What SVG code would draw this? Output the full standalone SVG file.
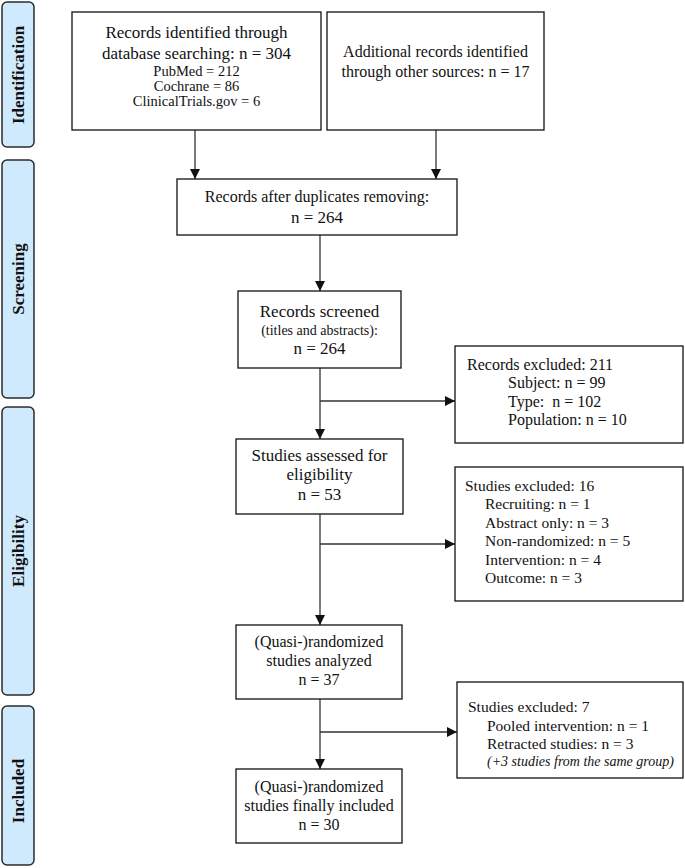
<svg xmlns="http://www.w3.org/2000/svg" width="685" height="868" viewBox="0 0 685 868">
<style>
.bg{fill:#ffffff}
.phase{fill:#cfeafc;stroke:#2b2b2b;stroke-width:1.5}
.ph{font-family:"Liberation Serif","Times New Roman",serif;font-weight:bold;font-size:17px;fill:#111;text-anchor:middle}
.box{fill:#ffffff;stroke:#111;stroke-width:1.3}
.t{font-family:"Liberation Serif","Times New Roman",serif;fill:#111}
.c{text-anchor:middle}
.f17{font-size:17px}
.f16{font-size:16px}
.f15{font-size:15.5px}
.f14{font-size:14.5px}
.it{font-style:italic;font-size:14px}
.ln{stroke:#333;stroke-width:1.3;fill:none}
</style>
<defs>
<marker id="ah" markerUnits="userSpaceOnUse" markerWidth="10" markerHeight="10" viewBox="0 0 10 10" refX="10" refY="5" orient="auto">
<path d="M0,0 L10,5 L0,10 z" fill="#111"/>
</marker>
</defs>
<rect class="bg" x="0" y="0" width="685" height="868"/>

<g id="phase-identification">
<rect class="phase" x="2" y="2" width="32" height="145" rx="5"/>
<text class="ph" transform="translate(24,75) rotate(-90)">Identification</text>
</g>
<g id="phase-screening">
<rect class="phase" x="2" y="160" width="32" height="238" rx="5"/>
<text class="ph" transform="translate(24,279) rotate(-90)">Screening</text>
</g>
<g id="phase-eligibility">
<rect class="phase" x="2" y="407" width="32" height="288" rx="5"/>
<text class="ph" transform="translate(24,551) rotate(-90)">Eligibility</text>
</g>
<g id="phase-included">
<rect class="phase" x="2" y="706" width="32" height="159" rx="5"/>
<text class="ph" transform="translate(24,791) rotate(-90)">Included</text>
</g>

<g id="connectors">
<line class="ln" x1="195" y1="130" x2="195" y2="179" marker-end="url(#ah)"/>
<line class="ln" x1="436" y1="130" x2="436" y2="179" marker-end="url(#ah)"/>
<line class="ln" x1="320" y1="235" x2="320" y2="291" marker-end="url(#ah)"/>
<line class="ln" x1="320" y1="368" x2="320" y2="439" marker-end="url(#ah)"/>
<line class="ln" x1="320" y1="401" x2="455" y2="401" marker-end="url(#ah)"/>
<line class="ln" x1="320" y1="514" x2="320" y2="625" marker-end="url(#ah)"/>
<line class="ln" x1="320" y1="544" x2="455" y2="544" marker-end="url(#ah)"/>
<line class="ln" x1="320" y1="699" x2="320" y2="769" marker-end="url(#ah)"/>
<line class="ln" x1="320" y1="732" x2="457" y2="732" marker-end="url(#ah)"/>
</g>

<g id="records-identified">
<rect class="box" x="72" y="12" width="249" height="118"/>
<text class="t c f17" x="196.5" y="38">Records identified through</text>
<text class="t c f17" x="196.5" y="59">database searching: n = 304</text>
<text class="t c f14" x="196.5" y="76">PubMed = 212</text>
<text class="t c f14" x="196.5" y="91">Cochrane = 86</text>
<text class="t c f14" x="196.5" y="106">ClinicalTrials.gov = 6</text>
</g>

<g id="additional-records">
<rect class="box" x="327" y="12" width="217" height="118"/>
<text class="t c f16" x="435.5" y="57">Additional records identified</text>
<text class="t c f16" x="435.5" y="77">through other sources: n = 17</text>
</g>

<g id="after-duplicates">
<rect class="box" x="177" y="179" width="280" height="56"/>
<text class="t c f16" x="317" y="202">Records after duplicates removing:</text>
<text class="t c f17" x="317" y="223">n = 264</text>
</g>

<g id="records-screened">
<rect class="box" x="238" y="291" width="163" height="77"/>
<text class="t c f17" x="319.5" y="317">Records screened</text>
<text class="t c" style="font-size:14px" x="319.5" y="335">(titles and abstracts):</text>
<text class="t c f17" x="319.5" y="354">n = 264</text>
</g>

<g id="records-excluded">
<rect class="box" x="455" y="346" width="228" height="97"/>
<text class="t f16" x="467" y="370">Records excluded: 211</text>
<text class="t f16" x="508" y="388">Subject: n = 99</text>
<text class="t f16" x="508" y="407" xml:space="preserve">Type:  n = 102</text>
<text class="t f16" x="508" y="425">Population: n = 10</text>
</g>

<g id="assessed-eligibility">
<rect class="box" x="236" y="439" width="167" height="75"/>
<text class="t c f17" x="319.5" y="461">Studies assessed for</text>
<text class="t c f17" x="319.5" y="480">eligibility</text>
<text class="t c f17" x="319.5" y="500">n = 53</text>
</g>

<g id="studies-excluded-16">
<rect class="box" x="455" y="467" width="228" height="134"/>
<text class="t f15" x="465" y="491">Studies excluded: 16</text>
<text class="t f15" x="485" y="509">Recruiting: n = 1</text>
<text class="t f15" x="485" y="528">Abstract only: n = 3</text>
<text class="t f15" x="485" y="546">Non-randomized: n = 5</text>
<text class="t f15" x="485" y="565">Intervention: n = 4</text>
<text class="t f15" x="485" y="583">Outcome: n = 3</text>
</g>

<g id="quasi-analyzed">
<rect class="box" x="236" y="625" width="166" height="74"/>
<text class="t c f16" x="319" y="647">(Quasi-)randomized</text>
<text class="t c f16" x="319" y="666">studies analyzed</text>
<text class="t c f16" x="319" y="685">n = 37</text>
</g>

<g id="studies-excluded-7">
<rect class="box" x="457" y="682" width="226" height="96"/>
<text class="t f15" x="468" y="712">Studies excluded: 7</text>
<text class="t f15" x="487" y="731">Pooled intervention: n = 1</text>
<text class="t f15" x="487" y="749">Retracted studies: n = 3</text>
<text class="t it" x="487" y="766">(+3 studies from the same group)</text>
</g>

<g id="quasi-included">
<rect class="box" x="236" y="769" width="166" height="74"/>
<text class="t c f16" x="319" y="792">(Quasi-)randomized</text>
<text class="t c f16" x="319" y="811">studies finally included</text>
<text class="t c f16" x="319" y="830">n = 30</text>
</g>
</svg>
